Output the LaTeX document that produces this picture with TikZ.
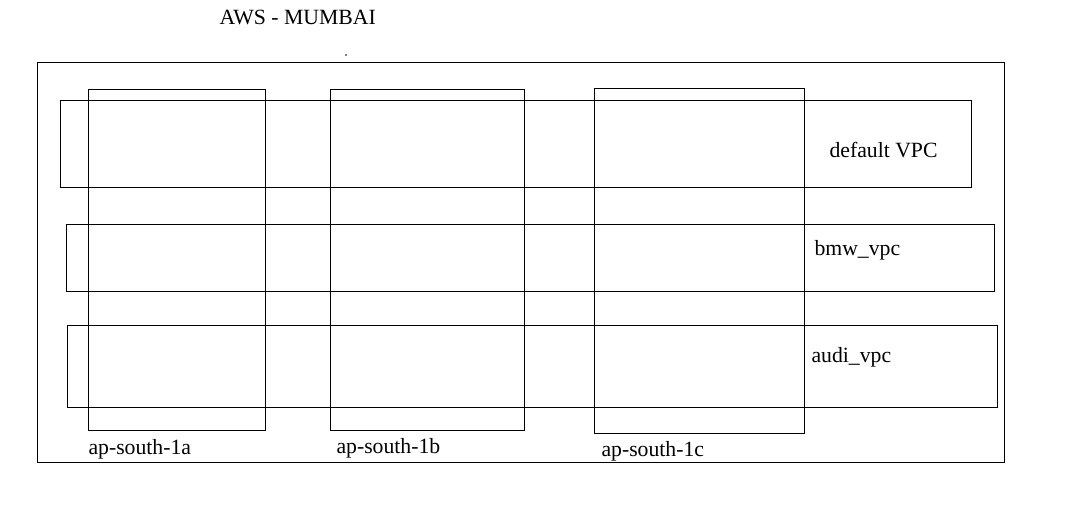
\documentclass[tikz,border=0pt]{standalone}
\usepackage{fontspec}
\setmainfont{Liberation Serif}
\usepackage{tikz}
\usetikzlibrary{positioning}

\begin{document}
\begin{tikzpicture}[x=0.75pt, y=-0.75pt, line width=0.75pt,
    every node/.style={font=\fontsize{16.3}{19}\selectfont},
    zone/.style={draw, rectangle, inner sep=0pt},
    tag/.style={inner sep=0pt, anchor=west}]
      \useasboundingbox (0,0) rectangle (1068,515);

      % Title
      \node[tag] (title) at (219, 17) {AWS - MUMBAI};
      \fill (346, 55) circle (0.7pt);

      % Region
      \node[zone, minimum width=725.25pt, minimum height=300pt] (region) at (520.5, 262) {};

      % VPCs
      \node[zone, minimum width=683.25pt, minimum height=65.25pt] (vpc1) at (515.5, 143.5) {};
      \node[zone, minimum width=696pt, minimum height=50.25pt] (vpc2) at (530, 257.5) {};
      \node[zone, minimum width=697.5pt, minimum height=61.5pt] (vpc3) at (532, 366) {};

      % Availability zones
      \node[zone, minimum width=132.75pt, minimum height=255.75pt] (az1) at (176.5, 259.5) {};
      \node[zone, minimum width=145.5pt, minimum height=255.75pt] (az2) at (427, 259.5) {};
      \node[zone, minimum width=157.5pt, minimum height=258.75pt] (az3) at (699, 260.5) {};

      % Labels
      \node[tag] (vpc1lbl) at (829, 150) {default VPC};
      \node[tag] (vpc2lbl) at (814, 250) {bmw\_vpc};
      \node[tag] (vpc3lbl) at (811, 357) {audi\_vpc};
      \node[tag] (az1lbl) at (88, 449) {ap-south-1a};
      \node[tag] (az2lbl) at (336, 448) {ap-south-1b};
      \node[tag] (az3lbl) at (601, 451) {ap-south-1c};
    \end{tikzpicture}
\end{document}
